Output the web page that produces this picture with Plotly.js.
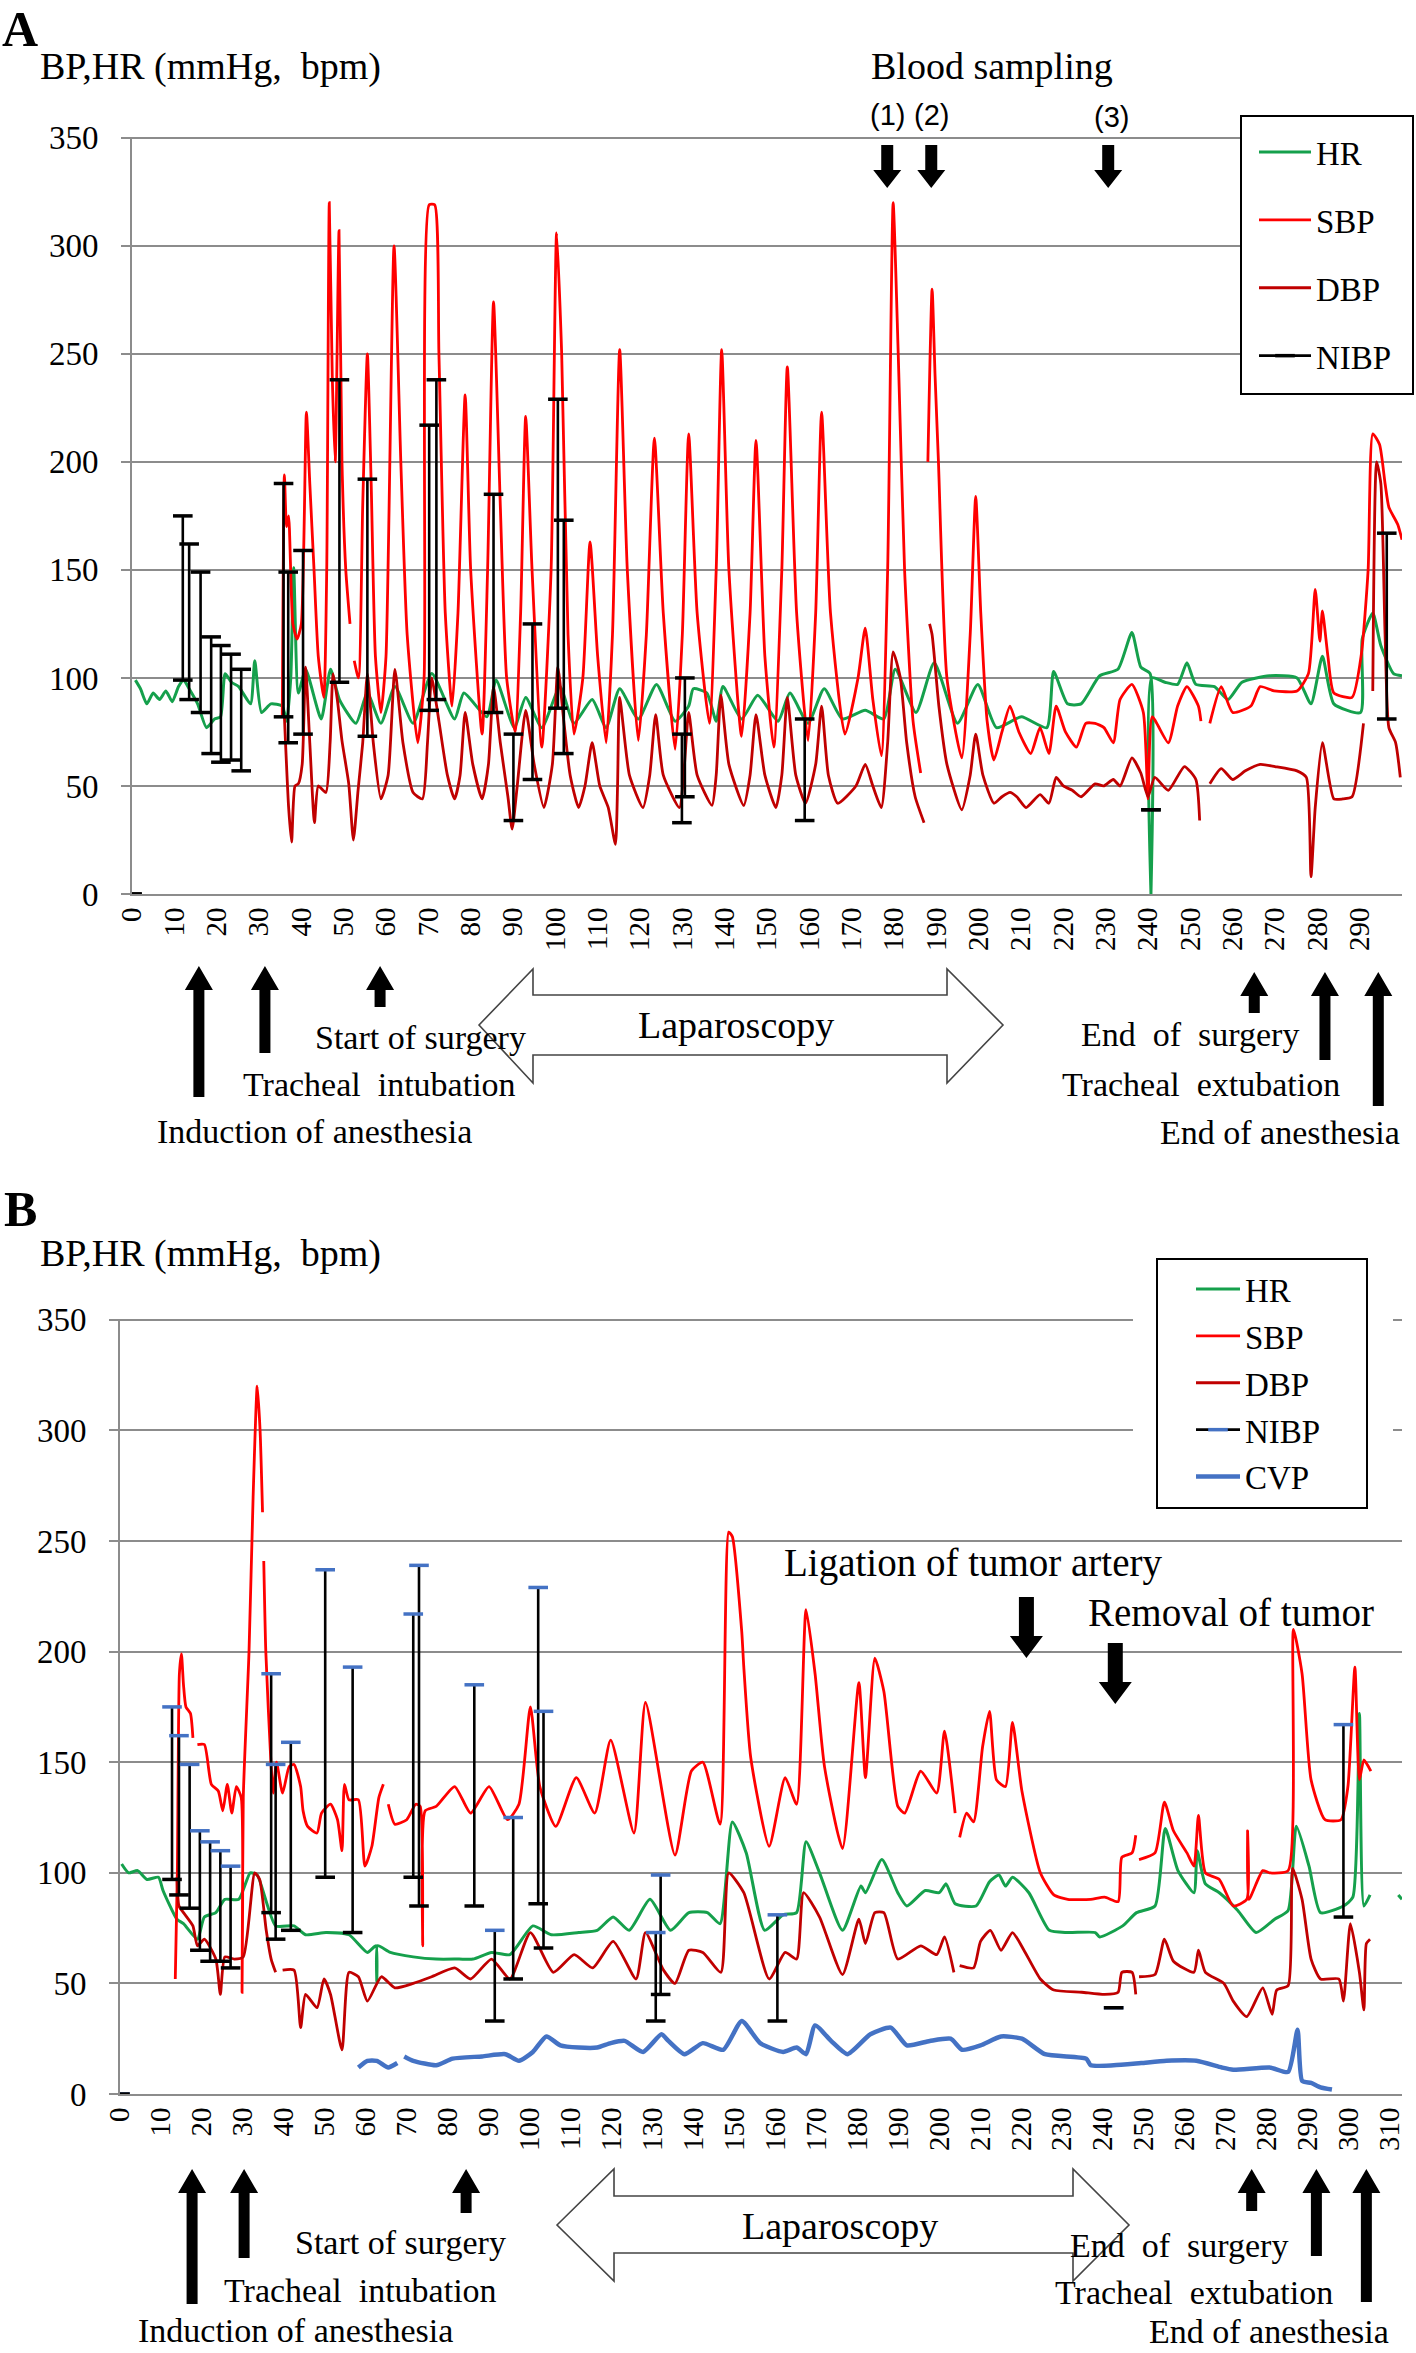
<!DOCTYPE html>
<html>
<head>
<meta charset="utf-8">
<script src="https://cdn.plot.ly/plotly-3.0.1.min.js"></script>
<style>html,body{margin:0;padding:0;background:#fff}#chart{width:1416px;height:2353px}</style>
</head>
<body>
<div id="chart"></div>
<script>
// ---------------- DATA (minutes, mmHg / bpm) ----------------
const ticksA = [0,10,20,30,40,50,60,70,80,90,100,110,120,130,140,150,160,170,180,190,200,210,220,230,240,250,260,270,280,290];
const ticksB = [0,10,20,30,40,50,60,70,80,90,100,110,120,130,140,150,160,170,180,190,200,210,220,230,240,250,260,270,280,290,300,310];
const yTicks = [0,50,100,150,200,250,300,350];

// Panel A
const hrA = [[0.8,99],[2,95],[3.5,88],[5,93],[6.5,90],[8,94],[9.5,89],[11,96],[12.2,99],[13.5,95],[15.5,88],[17.6,77],[19.5,81],[20.9,82],[22,102],[23.5,98],[25.2,96],[28,88],[29,108],[30.6,84],[32.8,88],[35.5,87],[36.5,80],[37.5,100],[38.2,151],[39.3,93],[41,104],[44.7,81],[46.9,104],[49,90],[52.9,79],[55.6,93],[58.8,79],[62.1,96],[66.4,79],[70.8,102],[76.2,81],[78.4,93],[83.8,82],[86,99],[90.3,77],[93,91],[96.8,77],[101.1,96],[104.4,79],[108.7,90],[112,77],[115.2,95],[119.6,81],[123.9,97],[128.3,80],[131.5,87],[132.6,95],[135.8,93],[138,80],[139.6,96],[144,81],[147.8,92],[152.6,80],[155.4,93],[159.7,79],[163.5,95],[167.8,81],[173.2,85],[177.6,81],[180.3,104],[185.2,84],[189.5,107],[195,79],[199.8,97],[204.2,77],[210.1,82],[216.1,77],[217.7,103],[221,88],[224.2,88],[228.6,101],[232.9,104],[236.2,121],[238.3,105],[240.5,102],[240.7,0],[240.9,100],[244,98],[247,97],[249.2,107],[251.3,97],[255.7,96],[258.9,90],[262.2,98],[268.7,101],[275.2,100],[278.5,88],[281.2,110],[283.9,88],[290.2,84],[290.6,118],[293.1,130],[295,115],[298,102],[300,101]];
const sbpA = [[35.5,82],[36,194],[36.5,170],[37,175],[38,125],[39,118],[40,125],[41.2,223],[42,190],[43,150],[44,110],[45.3,91],[46,150],[46.6,320],[47.3,240],[48,200],[48.9,307],[49.6,200],[50.5,150],[51.5,125],null,[52.5,108],[53.5,100],[54.5,180],[55.6,250],[56.5,190],[57.5,110],[58.8,84],[60,110],[61.9,300],[63.5,200],[65,120],[67.5,70],[69,100],[70.2,319],[71.5,319],[72.5,250],[74,130],[75.6,87],[77,130],[78.7,231],[80,150],[82.7,74],[84,150],[85.4,274],[87,180],[88.5,100],[90.5,75],[91.8,130],[93,221],[94.5,150],[96.8,68],[99,150],[100.3,306],[101.5,250],[103,120],[104.4,74],[106.5,100],[108.2,163],[110,110],[112,70],[113.5,120],[115.2,252],[117,150],[119.6,71],[121.5,120],[123.4,211],[125.5,130],[128.3,67],[130,120],[131.5,213],[133.5,130],[136.4,79],[138,150],[139.3,252],[141,150],[144,73],[146,130],[147.4,210],[149.5,110],[151.6,68],[153.5,150],[154.8,244],[157,130],[159.7,71],[161.5,130],[162.9,223],[165,130],[168.4,74],[171.5,100],[173.2,123],[175,90],[177,64],[178.5,150],[179.8,320],[181,250],[182.5,150],[184.5,80],[186.3,56],null,[188,200],[189,280],[189.7,240],[190.5,200],[192.5,100],[196,63],[198,120],[199.3,184],[200.5,130],[202,80],[203.6,62],[205.5,75],[207.4,87],[209.5,75],[212.3,65],[214.5,77],[216.6,65],[218.3,87],[220.5,75],[223.1,68],[225.3,79],[227.5,79],[229.6,77],[231.8,70],[233.4,90],[236.2,97],[238.9,84],[240,44],[241,82],[244.8,70],[247,87],[249.2,96],[251.9,87],[252.5,80],null,[254.6,79],[257.3,96],[260,84],[264.3,87],[266.5,96],[269.8,94],[275.2,94],[277.9,102],[279.5,141],[280.6,117],[281.2,131],[282.5,110],[283.9,93],[288.2,91],[290.4,111],[292,150],[293.1,213],[294.7,208],[296,190],[296.9,179],[299,171],[300,164]];
const dbpA = [[36,82],[37,40],[37.7,24],[38.5,50],[39.3,51],[40.2,60],[41,105],[42,70],[43.1,33],[44,50],[45.8,47],[46.8,70],[47.5,102],[48.5,90],[49.6,71],[51.2,51],[52.3,25],[53.4,48],[54.5,70],[55.6,102],[57,70],[58.8,44],[60.5,55],[62.1,104],[64,70],[66.4,47],[68.6,44],[69.8,70],[70.8,100],[72.5,80],[74.5,55],[76.2,44],[77.5,55],[78.7,84],[80.5,60],[82.7,44],[84.2,60],[85.4,96],[87,70],[88.8,45],[89.8,30],[91,50],[93,85],[95,60],[97.3,40],[99.3,60],[100.6,105],[102,80],[103.5,55],[105.5,40],[107,50],[108.7,70],[110.5,50],[112.5,40],[114.2,23],[114.7,50],[115.2,91],[117.5,55],[120.7,40],[122.3,55],[123.7,83],[125.5,55],[129.3,40],[130.5,60],[131.5,84],[133.5,55],[137,41],[138,55],[139.1,92],[141,60],[144.5,41],[146,55],[147.4,83],[149.5,55],[152.1,40],[153.5,55],[154.8,91],[156.8,55],[159.1,42],[161.5,60],[162.9,87],[164.5,55],[166.7,42],[171,50],[173.2,60],[175,50],[177,40],[178.5,70],[179.8,112],[181.5,100],[183,70],[185,45],[187.1,33],null,[188.4,125],[189,120],[190.6,87],[192.5,60],[196,39],[198,55],[199.3,74],[201,55],[203.6,42],[205.5,45],[207.4,47],[209,45],[211.2,40],[214.5,46],[216.6,42],[218.3,54],[220,50],[222.1,48],[224.2,45],[227.5,51],[229.5,50],[231.8,53],[233.4,50],[236.2,63],[238.3,56],[240,45],[241.6,54],[244.8,48],[248.6,59],[251.3,53],[252.2,34],null,[254.6,51],[257.3,58],[260,53],[263,57],[266.5,60],[270,59],[275.2,57],[277.4,54],[278.5,8],[279.5,40],[281.2,70],[283.9,44],[286,44],[288.2,45],[290.9,79],null,[293.1,94],[294,200],[295,190],[296,120],[296.9,77],[298.5,70],[299.6,54]];
const nibpA_t   = [0,12,13.5,16.2,18.7,21,23.4,25.8,35.8,36.9,40.4,49,55.6,70.2,71.9,85.4,90.1,94.6,100.6,102,129.9,130.6,158.9,240.7,296.4];
const nibpA_sys = [0,175,162,149,119,115,111,104,190,149,159,238,192,217,238,185,74,125,229,173,74,100,81,39,167];
const nibpA_dia = [0,99,90,84,65,61,62,57,82,70,74,98,73,85,90,84,34,53,86,65,33,45,34,39,81];
const bloodSamplingA = [178.4,188.8,230.6];
const eventsA = [15.8,31.4,58.6,265.1,281.8,294.4];

// Panel B
const hrB = [[0.4,104],[2.1,100],[4.3,101],[6.6,97],[9.4,98],[10.5,92],[13.9,79],[15.5,77],[18.9,70],[20.6,80],[23.4,82],[25.6,88],[29,88],[31.8,100],[33.5,99],[38,76],[42.5,76],[45.3,72],[50.3,73],[55.9,72],[60.4,64],[62.5,67],[62.7,51],[62.9,67],[66,64],[71.6,62],[77.2,61],[82.8,61],[86.2,61],[90.7,64],[95.2,63],[100.8,76],[105.3,72],[112,73],[116.5,74],[120.4,80],[124.3,74],[129.4,88],[134.4,74],[138.9,82],[143.4,82],[146.5,77],[149.5,123],[152.9,109],[157.4,74],[161.9,81],[165.2,82],[167.5,114],[170.8,100],[176.4,74],[180.9,94],[182,91],[186,106],[189.9,91],[192.1,85],[196.6,92],[200,91],[201.7,95],[203.9,86],[209,85],[212.3,96],[214.6,99],[216.2,94],[217.9,98],[221.9,91],[226.9,74],[231.4,73],[238.1,73],[239.2,71],[244.8,76],[248.2,82],[252.7,85],[255.2,120],[258.3,101],[262.2,91],[263,110],[265,95],[268.4,91],[272.9,83],[277.4,73],[281.9,79],[285.2,83],[287.2,121],[290.3,103],[293.1,82],[298.7,85],[301,89],[302.6,172],[303.7,85],[305.2,90],null,[312.1,90],[313,88]];
const sbpB = [[13.5,52],[14,100],[14.5,190],[15,199],[15.5,185],[16.1,175],[17.2,172],[17.8,161],null,[18.9,158],[20.6,158],[22.3,140],[24,137],[25.1,128],[26.2,140],[27.3,127],[28.4,139],[29.6,134],[29.8,46],[30.1,134],[31.5,200],[32.5,270],[33.5,320],[34.2,300],[34.8,263],null,[35.1,241],[35.6,200],[36.9,148],[37.4,136],[38.2,150],[39.7,136],[41.3,148],[42.5,149],[44.1,139],[44.7,128],[45.8,121],[48.1,118],[49.2,127],[51.4,131],[53.1,124],[54.2,110],[54.8,140],[55.9,133],[58.2,133],[59.8,103],[61.5,112],[63.2,134],[64.3,140],null,[65.5,131],[67.1,122],[70,124],[72.2,131],[73.3,130],[73.9,67],[74.5,128],[77.2,130],[81.7,139],[85.6,127],[90.1,139],[94.6,124],[97.4,131],[100.2,175],[102.5,139],[106.4,121],[111.4,143],[115.9,127],[119.8,160],[125.5,118],[128.3,177],[135.5,108],[139.5,146],[142.3,150],[146.5,122],[148.6,254],[149.5,252],[151.8,209],[152.3,193],[154,152],[158.5,112],[162.4,143],[165.2,131],[167.5,219],[169.7,190],[172,148],[176.4,111],[180.4,186],[182,143],[184.3,197],[186.5,182],[189.9,130],[191.6,127],[195.5,146],[199.4,136],[201.3,164],[203.9,127],null,[205,116],[206.7,127],[208.4,123],[210.6,157],[212.3,173],[214,142],[216.2,139],[217.9,168],[220.2,137],[224.7,100],[228,90],[231.4,88],[237,88],[240.4,89],[243.7,87],[244.6,107],[247.1,109],[248,117],null,[248.8,106],[252.7,109],[255,132],[257.2,119],[260.5,109],[262.2,103],[263.3,126],[265,100],[268.4,97],[271.8,85],[275.1,88],[275.3,119],[275.6,88],[279,101],[280.7,100],[285.2,101],[286.5,210],[288.6,190],[290.8,142],[294.2,124],[298.1,124],[299.8,139],[301.5,193],[302.6,142],[303.7,151],[305.4,146]];
const dbpB = [[13.9,98],[14.4,85],[15.5,82],[17.8,76],[18.9,67],[20.6,70],[23.4,61],[24.5,45],[25.6,62],[27.9,61],[30.1,62],[32.9,100],[34.1,97],[35.7,74],[36.9,61],[38,55],null,[39.7,56],[42.5,56],[44.1,30],[45.3,45],[48.1,39],[49.8,52],[51.4,45],[54.2,20],[55.9,55],[58.2,53],[60.4,42],[63.8,53],[67.1,48],[71.6,50],[76.1,53],[81.7,57],[85.6,52],[90.7,61],[95.2,52],[100.2,73],[105.8,55],[110.9,63],[115.4,57],[120.4,69],[126,52],[128.3,73],[132.7,56],[135.5,50],[138.9,65],[142.3,64],[146.7,55],[148.6,100],[152.3,91],[158.5,52],[162.4,64],[165.2,61],[166.9,91],[170.8,80],[176.4,54],[180.4,79],[182,68],[184.3,82],[186.5,82],[189.9,61],[195.5,67],[199.4,63],[201.3,71],[203.6,55],null,[205,58],[208.4,57],[210.1,69],[212.5,74],[215.1,65],[217.9,73],[220.7,65],[224.7,52],[228,47],[234.8,46],[240.4,45],[243.7,46],[244.6,55],[247.1,55],[248,45],null,[248.8,53],[252.7,54],[255,70],[257.2,60],[262.2,55],[263.3,65],[265,55],[269.5,50],[271.8,42],[275.1,35],[279,48],[281.3,36],[282.4,47],[285.2,49],[286.3,102],[288.6,88],[290.8,61],[293.1,52],[297.6,52],[298.7,42],[300.4,77],[302.6,55],[303.7,38],[304.3,68],[305.2,70]];
const cvpB = [[58.2,12],[60.4,15],[62.7,15],[65.5,12],[67.7,14],null,[69.4,17],[71.6,15],[77.2,13],[81.2,16],[88.4,17],[94.1,18],[97.4,15],[100.8,19],[104.1,26],[107.5,22],[112,21],[116.5,21],[119.8,23],[123.2,24],[127.7,19],[132.2,27],[133.9,24],[137.8,18],[142.3,23],[147.3,20],[151.8,33],[156.3,23],[161.9,19],[165.2,21],[167.5,18],[169.7,31],[173.6,24],[177.6,18],[183.2,27],[188.2,30],[192.1,22],[197.7,24],[202.8,25],[205.6,20],[210.1,22],[215.1,26],[220.2,25],[225.8,18],[235.9,16],[237,13],[242.6,13],[249.3,14],[255.5,15],[262.8,15],[269,12],[271.8,11],[280.7,12],[285.2,10],[287.5,29],[288.6,6],[290.8,5],[293.1,3],[295.9,2]];
const nibpB_t   = [0,12.7,14.4,17,19.5,22,24.5,27,36.9,38,41.7,50.1,56.8,71.6,73,86.5,91.5,96,102.1,103.4,130.8,132,160.5,242.6,298.7];
const nibpB_sys = [0,175,162,149,119,114,110,103,190,149,159,237,193,217,239,185,74,125,229,173,73,99,81,39,167];
const nibpB_dia = [0,97,90,84,65,60,60,57,82,70,74,98,73,98,85,85,33,52,86,66,33,45,33,39,80];
const tumorEventsB = [221.3,243.0];
const eventsB = [17.6,30.3,84.5,276.3,292.1,304.3];

const eventLabels = ['Induction of anesthesia','Tracheal  intubation','Start of surgery','End  of  surgery','Tracheal  extubation','End of anesthesia'];

// ---------------- LAYOUT HELPERS ----------------
const W = 1416, H = 2353;
const GEO = {
  A: {x0:132, x1:1402, r0:0, r1:300, yTop:136.5, yBot:894},
  B: {x0:120, x1:1402, r0:0, r1:313, yTop:1318.5, yBot:2094}
};
const SERIF = 'Liberation Serif, Times New Roman, serif';
const C = {hr:'#15a04c', sbp:'#ff0000', dbp:'#c00000', nibp:'#000000', cvp:'#4472c4', grid:'#8c8c8c'};

function tx(p, t){ const g = GEO[p]; return g.x0 + (t - g.r0) / (g.r1 - g.r0) * (g.x1 - g.x0); }
function P(px, py){ return (px / W).toFixed(5) + ',' + (1 - py / H).toFixed(5); }
function polyPath(pts){ return 'M' + pts.map(q => P(q[0], q[1])).join('L') + 'Z'; }
function arrowShape(cx, yTip, yTail, sw, hw, hl){
  const d = yTail > yTip ? 1 : -1;
  const b = yTip + d * hl;
  const pts = [[cx-sw/2,yTail],[cx-sw/2,b],[cx-hw/2,b],[cx,yTip],[cx+hw/2,b],[cx+sw/2,b],[cx+sw/2,yTail]];
  return {type:'path', xref:'paper', yref:'paper', path: polyPath(pts), fillcolor:'#000', line:{width:0}, layer:'above'};
}
function dblArrow(xl, xlb, xrb, xr, yc, hTop, hBot, bTop, bBot){
  const pts = [[xl,yc],[xlb,hTop],[xlb,bTop],[xrb,bTop],[xrb,hTop],[xr,yc],[xrb,hBot],[xrb,bBot],[xlb,bBot],[xlb,hBot]];
  return {type:'path', xref:'paper', yref:'paper', path: polyPath(pts), fillcolor:'#fff', line:{width:1.6, color:'#444'}, layer:'above'};
}
function rectPx(x0, y0, x1, y1, fill, lineW, lineC){
  return {type:'rect', xref:'paper', yref:'paper', x0: x0 / W, x1: x1 / W, y0: 1 - y1 / H, y1: 1 - y0 / H,
    fillcolor: fill, line:{width: lineW, color: lineC || fill}, layer:'above'};
}
function txt(px, py, s, size, extra){
  return Object.assign({xref:'paper', yref:'paper', x: px / W, y: 1 - py / H, text: s, showarrow:false, borderpad:0,
    xanchor:'center', yanchor:'middle', font:{family:SERIF, size:size, color:'#000'}}, extra || {});
}
function xs(arr){ return arr.map(p => p ? p[0] : null); }
function ys(arr){ return arr.map(p => p ? p[1] : null); }

function lineTrace(arr, name, color, width, xa, ya, leg){
  return {type:'scatter', mode:'lines', x: xs(arr), y: ys(arr), name: name, xaxis: xa, yaxis: ya,
    line:{color: color, width: width, shape:'spline', smoothing:0.55}, legend: leg, legendgroup: leg + name, hoverinfo:'skip'};
}
function nibpTrace(t, sys, dia, topColor, xa, ya, leg){
  const x = [], y = [], mc = [];
  for (let i = 0; i < t.length; i++){
    x.push(t[i], t[i], null); y.push(sys[i], dia[i], null); mc.push(topColor, '#000', '#000');
  }
  return {type:'scatter', mode:'lines+markers', x: x, y: y, name:'NIBP', xaxis: xa, yaxis: ya,
    line:{color:'#000', width:2.6},
    marker:{symbol:'line-ew', size:14, color: mc, line:{width:3.5, color: mc}},
    legend: leg, legendgroup: leg + 'NIBP', hoverinfo:'skip'};
}

const traces = [
  lineTrace(hrA, 'HR', C.hr, 3, 'x', 'y', 'legend'),
  lineTrace(sbpA, 'SBP', C.sbp, 2.8, 'x', 'y', 'legend'),
  lineTrace(dbpA, 'DBP', C.dbp, 2.8, 'x', 'y', 'legend'),
  nibpTrace(nibpA_t, nibpA_sys, nibpA_dia, '#000', 'x', 'y', 'legend'),
  lineTrace(hrB, 'HR', C.hr, 3, 'x2', 'y2', 'legend2'),
  lineTrace(sbpB, 'SBP', C.sbp, 2.8, 'x2', 'y2', 'legend2'),
  lineTrace(dbpB, 'DBP', C.dbp, 2.8, 'x2', 'y2', 'legend2'),
  nibpTrace(nibpB_t, nibpB_sys, nibpB_dia, C.cvp, 'x2', 'y2', 'legend2'),
  lineTrace(cvpB, 'CVP', C.cvp, 4.5, 'x2', 'y2', 'legend2')
];

function xAxis(p, ticks, anchor){
  const g = GEO[p];
  return {domain:[g.x0 / W, g.x1 / W], range:[g.r0, g.r1], anchor: anchor, tickmode:'array', tickvals: ticks,
    ticktext: ticks.map(String), tickangle:-90, tickfont:{family:SERIF, size:29, color:'#000'},
    showgrid:false, zeroline:false, showline:true, linecolor:C.grid, linewidth:2, ticks:'', fixedrange:true};
}
function yAxis(p, anchor){
  const g = GEO[p];
  return {domain:[1 - g.yBot / H, 1 - g.yTop / H], range:[0, 350.6], anchor: anchor, tickmode:'array',
    tickvals: yTicks, ticktext: yTicks.map(String), tickfont:{family:SERIF, size:33, color:'#000'},
    showgrid:true, gridcolor:C.grid, gridwidth:2, zeroline:false, showline:true, linecolor:C.grid, linewidth:2,
    ticks:'outside', ticklen:9, tickwidth:2, tickcolor:C.grid, ticklabelstandoff:16, fixedrange:true};
}

// shapes
const shapes = [];
// legend frames
shapes.push(rectPx(1241, 116, 1413, 394, '#fff', 2, '#000'));
shapes.push(rectPx(1133, 1259, 1393, 1508, '#fff', 0));
shapes.push(rectPx(1157, 1259, 1367, 1508, '#fff', 2, '#000'));
// Panel A: event arrows (up)
const aTip = [966, 966, 966, 972, 972, 972];
const aTail = [1097, 1053, 1007, 1013, 1060, 1106];
eventsA.forEach((t, i) => shapes.push(arrowShape(tx('A', t), aTip[i], aTail[i], 11, 28, 24)));
// Panel A: blood sampling (down)
bloodSamplingA.forEach(t => shapes.push(arrowShape(tx('A', t), 188, 145, 12, 28, 18)));
shapes.push(dblArrow(479, 533, 947, 1003, 1025, 969, 1083, 995, 1055));
// Panel B
const bTip = [2169, 2169, 2169, 2169, 2169, 2169];
const bTail = [2304, 2258, 2213, 2211, 2256, 2302];
eventsB.forEach((t, i) => shapes.push(arrowShape(tx('B', t), bTip[i], bTail[i], 11, 28, 24)));
const tTop = [1597, 1643], tTipY = [1658, 1704];
tumorEventsB.forEach((t, i) => shapes.push(arrowShape(tx('B', t), tTipY[i], tTop[i], 15, 33, 22)));
shapes.push(dblArrow(557, 614, 1073, 1129, 2225, 2169, 2281, 2196, 2253));

// annotations
const sans = {family:'Liberation Sans, Arial, sans-serif', size:29, color:'#000'};
const ann = [
  txt(20, 0, '<b>A</b>', 50, {yanchor:'top'}),
  txt(39, 67, 'BP,HR (mmHg,  bpm)', 38, {xanchor:'left'}),
  txt(992, 66, 'Blood sampling', 38),
  txt(tx('A', bloodSamplingA[0]), 115, '(1)', 29, {font:sans}),
  txt(tx('A', bloodSamplingA[1]), 115, '(2)', 29, {font:sans}),
  txt(tx('A', bloodSamplingA[2]) + 3, 117, '(3)', 29, {font:sans}),
  txt(314, 1131, eventLabels[0], 34),
  txt(379, 1084, eventLabels[1], 34),
  txt(420, 1037, eventLabels[2], 34),
  txt(736, 1025, 'Laparoscopy', 38),
  txt(1190, 1034, eventLabels[3], 34),
  txt(1201, 1084, eventLabels[4], 34),
  txt(1280, 1133, eventLabels[5], 34),

  txt(20, 1180, '<b>B</b>', 50, {yanchor:'top'}),
  txt(39, 1253, 'BP,HR (mmHg,  bpm)', 38, {xanchor:'left'}),
  txt(973, 1563, 'Ligation of tumor artery', 39),
  txt(1231, 1612, 'Removal of tumor', 39),
  txt(295, 2330, eventLabels[0], 34),
  txt(360, 2290, eventLabels[1], 34),
  txt(400, 2242, eventLabels[2], 34),
  txt(840, 2226, 'Laparoscopy', 38),
  txt(1179, 2245, eventLabels[3], 34),
  txt(1194, 2292, eventLabels[4], 34),
  txt(1269, 2331, eventLabels[5], 34)
];

const layout = {
  width: W, height: H, margin:{l:0, r:0, t:0, b:0, pad:0},
  paper_bgcolor:'#fff', plot_bgcolor:'#fff',
  font:{family:SERIF, color:'#000'},
  showlegend:true,
  xaxis: xAxis('A', ticksA, 'y'), yaxis: yAxis('A', 'x'),
  xaxis2: xAxis('B', ticksB, 'y2'), yaxis2: yAxis('B', 'x2'),
  legend:{x:1254 / W, y:1 - 124 / H, xanchor:'left', yanchor:'top', bgcolor:'rgba(0,0,0,0)', borderwidth:0,
    font:{family:SERIF, size:33, color:'#000'}, tracegroupgap:22, itemwidth:52},
  legend2:{x:1191 / W, y:1 - 1261 / H, xanchor:'left', yanchor:'top', bgcolor:'rgba(0,0,0,0)', borderwidth:0,
    font:{family:SERIF, size:33, color:'#000'}, tracegroupgap:1, itemwidth:44},
  shapes: shapes,
  annotations: ann
};

Plotly.newPlot('chart', traces, layout, {staticPlot:true, displayModeBar:false});
</script>
</body>
</html>
